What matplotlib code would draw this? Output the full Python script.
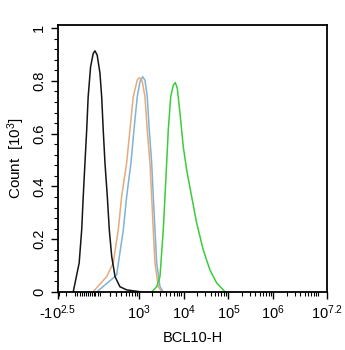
import numpy as np
import matplotlib
matplotlib.use("Agg")
import matplotlib.pyplot as plt
from matplotlib.ticker import AutoMinorLocator, FixedLocator

plt.rcParams["font.family"] = "Liberation Sans"
plt.rcParams["mathtext.fontset"] = "custom"
plt.rcParams["mathtext.rm"] = "Liberation Sans"
plt.rcParams["mathtext.default"] = "regular"

# fluorescence intensity (BCL10-H) and count [10^3]
black_x = [-117, -65, -45, -33, -20, -7, 4, 22, 42, 56, 74, 98, 114, 129, 147,
           173, 197, 229, 279, 367, 528, 1061]
black_y = [0.001, 0.11, 0.235, 0.361, 0.489, 0.614, 0.740, 0.853, 0.904, 0.914,
           0.898, 0.830, 0.740, 0.614, 0.489, 0.361, 0.235, 0.134, 0.058, 0.020,
           0.008, 0.001]

blue_x = [70, 305, 441, 528, 663, 776, 922, 1061, 1221, 1375, 1547, 1717, 1944,
          2108, 2303, 2513, 2978, 3528]
blue_y = [0.0, 0.064, 0.235, 0.361, 0.489, 0.614, 0.740, 0.797, 0.816, 0.803,
          0.740, 0.614, 0.489, 0.361, 0.235, 0.110, 0.020, 0.001]

orange_x = [40, 165, 251, 334, 403, 528, 629, 748, 922, 1023, 1177, 1375, 1547,
            1780, 1944, 2108, 2303, 2730, 3254]
orange_y = [0.0, 0.058, 0.110, 0.235, 0.361, 0.489, 0.614, 0.740, 0.803, 0.812,
            0.803, 0.740, 0.614, 0.489, 0.361, 0.235, 0.110, 0.020, 0.001]

green_x = [1944, 2513, 2978, 3528, 3850, 4202, 4563, 5165, 5905, 6540, 7250,
           8323, 9870, 11760, 15190, 19630, 27550, 38890, 54850, 84190]
green_y = [0.0, 0.020, 0.058, 0.235, 0.361, 0.489, 0.614, 0.740, 0.784, 0.794,
           0.772, 0.678, 0.550, 0.462, 0.361, 0.261, 0.159, 0.083, 0.034, 0.001]

x_ticks = [-10**2.5, 1e3, 1e4, 1e5, 1e6, 10**7.2]
x_ticklabels = ["-10$^{2.5}$", "10$^{3}$", "10$^{4}$", "10$^{5}$", "10$^{6}$", "10$^{7.2}$"]
y_ticks = [0, 0.2, 0.4, 0.6, 0.8, 1]
y_ticklabels = ["0", "0.2", "0.4", "0.6", "0.8", "1"]

# logicle-like display: arcsinh scale
W = 145.0
def fwd(x):
    return np.arcsinh(np.asarray(x, dtype=float) / W) / np.log(10)

def inv(y):
    return W * np.sinh(np.asarray(y, dtype=float) * np.log(10))


fig = plt.figure(figsize=(3.45, 3.5), dpi=100)
ax = fig.add_axes([58 / 345, 58 / 350, 269 / 345, 267 / 350])
ax.set_xscale("function", functions=(fwd, inv))

ax.plot(blue_x, blue_y, color="#7db3d8", lw=1.1)
ax.plot(orange_x, orange_y, color="#e6aa7c", lw=1.1)
ax.plot(green_x, green_y, color="#3ccc3c", lw=1.1)
ax.plot(black_x, black_y, color="#151515", lw=1.1)

ax.set_xlim(-10**2.5, 10**7.2)
ax.set_ylim(0, 1.012)

ax.xaxis.set_major_locator(FixedLocator(x_ticks))
ax.set_xticklabels(x_ticklabels)
minor = [0]
for v in [15, 30, 45, 60, 80, 100, 200, 300]:
    minor += [v, -v]
for n in [2, 3, 4, 5, 6]:
    for k in range(2, 10):
        minor.append(k * 10**n)
minor.append(1e7)
ax.xaxis.set_minor_locator(FixedLocator(minor))

ax.set_yticks(y_ticks)
ax.set_yticklabels(y_ticklabels, rotation=90, va="center")
ax.yaxis.set_minor_locator(AutoMinorLocator(5))

ax.tick_params(which="major", direction="out", length=5, width=1.0, labelsize=10.5, colors="black")
ax.tick_params(which="minor", direction="out", length=3, width=0.8)
for s in ax.spines.values():
    s.set_linewidth(1.3)

ax.set_xlabel("BCL10-H", fontsize=10.5, labelpad=6)
ax.set_ylabel("Count  [10$^{3}$]", fontsize=11, labelpad=4)

fig.savefig("out.png", dpi=100)
